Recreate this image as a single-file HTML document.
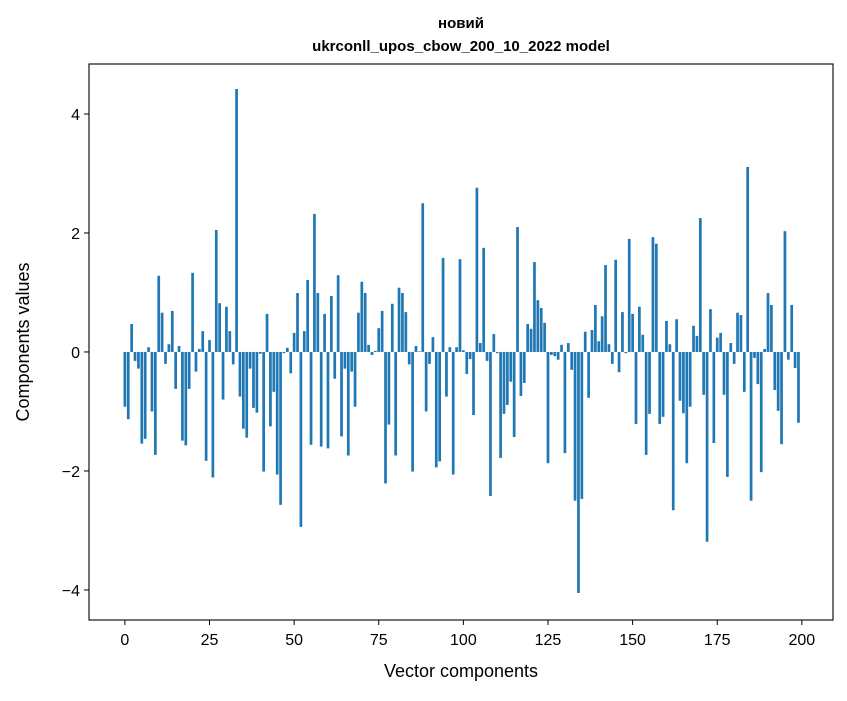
<!DOCTYPE html>
<html><head><meta charset="utf-8"><style>
body{margin:0;background:#fff;}
svg text{font-family:"Liberation Sans","DejaVu Sans",sans-serif;fill:#000;}
</style></head><body>
<svg id="chart" width="847" height="696" xmlns="http://www.w3.org/2000/svg">
<rect x="0" y="0" width="847" height="696" fill="#fff"/>
<text x="461" y="28" text-anchor="middle" font-size="15" font-weight="bold">новий</text>
<text x="461" y="51" text-anchor="middle" font-size="15" font-weight="bold">ukrconll_upos_cbow_200_10_2022 model</text>
<g id="bars"></g>
<g id="axes"></g>
<text x="461" y="677" text-anchor="middle" font-size="18">Vector components</text>
<text transform="translate(29,342) rotate(-90)" text-anchor="middle" font-size="18">Components values</text>
</svg>
<script>
const values = [-0.92,-1.13,0.47,-0.15,-0.28,-1.54,-1.46,0.08,-1.0,-1.73,
1.28,0.66,-0.2,0.13,0.69,-0.62,0.1,-1.49,-1.57,-0.62,
1.33,-0.33,0.05,0.35,-1.83,0.2,-2.11,2.05,0.82,-0.8,
0.76,0.35,-0.21,4.42,-0.75,-1.29,-1.44,-0.28,-0.94,-1.02,
-0.03,-2.01,0.64,-1.25,-0.67,-2.06,-2.57,-0.02,0.07,-0.36,
0.32,0.99,-2.94,0.35,1.21,-1.56,2.32,0.99,-1.59,0.64,
-1.62,0.94,-0.45,1.29,-1.42,-0.28,-1.74,-0.33,-0.92,0.66,
1.18,0.99,0.12,-0.05,0.02,0.4,0.69,-2.21,-1.22,0.81,
-1.74,1.08,0.99,0.67,-0.21,-2.01,0.1,0.01,2.5,-1.0,
-0.2,0.25,-1.94,-1.84,1.58,-0.75,0.08,-2.06,0.08,1.56,
0.03,-0.37,-0.12,-1.06,2.76,0.15,1.75,-0.15,-2.42,0.3,
-0.02,-1.78,-1.04,-0.89,-0.5,-1.43,2.1,-0.74,-0.52,0.47,
0.39,1.51,0.87,0.74,0.49,-1.87,-0.05,-0.07,-0.13,0.12,
-1.7,0.15,-0.3,-2.5,-4.05,-2.47,0.34,-0.77,0.37,0.79,
0.18,0.6,1.46,0.13,-0.2,1.55,-0.34,0.67,-0.02,1.9,
0.64,-1.21,0.76,0.29,-1.73,-1.04,1.93,1.82,-1.21,-1.09,
0.52,0.13,-2.66,0.55,-0.82,-1.03,-1.87,-0.92,0.44,0.27,
2.25,-0.72,-3.19,0.72,-1.53,0.24,0.32,-0.72,-2.1,0.15,
-0.2,0.66,0.62,-0.67,3.11,-2.5,-0.1,-0.54,-2.02,0.05,
0.99,0.79,-0.64,-0.99,-1.55,2.03,-0.13,0.79,-0.27,-1.19];
const xTicks = [0,25,50,75,100,125,150,175,200];
const yTicks = [-4,-2,0,2,4];
const yTickLabels = ["\u22124","\u22122","0","2","4"];

const L=89,R=833,T=64,B=620;
const xMin=-10.6, xMax=209.2, yMin=-4.505, yMax=4.84;
const sx=v=>L+(v-xMin)/(xMax-xMin)*(R-L);
const sy=v=>B-(v-yMin)/(yMax-yMin)*(B-T);
const NS="http://www.w3.org/2000/svg";
const bars=document.getElementById('bars');
values.forEach((v,i)=>{
  const r=document.createElementNS(NS,'rect');
  
  
  const x0=sx(i-0.4), x1=sx(i+0.4);
  const y0=sy(Math.max(v,0)), y1=sy(Math.min(v,0));
  r.setAttribute('x',x0); r.setAttribute('width',x1-x0);
  r.setAttribute('y',y0); r.setAttribute('height',Math.max(y1-y0,0.3));
  r.setAttribute('fill','#1f77b4');
  bars.appendChild(r);
});
const axes=document.getElementById('axes');
const frame=document.createElementNS(NS,'rect');


frame.setAttribute('x',L);frame.setAttribute('y',T);frame.setAttribute('width',R-L);frame.setAttribute('height',B-T);
frame.setAttribute('fill','none');frame.setAttribute('stroke','#000');frame.setAttribute('stroke-width','1.1');
axes.appendChild(frame);
xTicks.forEach(t=>{
  const x=sx(t);
  const l=document.createElementNS(NS,'line');
  
  
  l.setAttribute('x1',x);l.setAttribute('x2',x);l.setAttribute('y1',B);l.setAttribute('y2',B+5);l.setAttribute('stroke','#000');
  axes.appendChild(l);
  const tx=document.createElementNS(NS,'text');
  
  
  tx.setAttribute('x',x);tx.setAttribute('y',B+25);tx.setAttribute('text-anchor','middle');tx.setAttribute('font-size','16');
  tx.textContent=t;
  axes.appendChild(tx);
});
yTicks.forEach((t,i)=>{
  const y=sy(t);
  const l=document.createElementNS(NS,'line');
  
  
  l.setAttribute('x1',L-5);l.setAttribute('x2',L);l.setAttribute('y1',y);l.setAttribute('y2',y);l.setAttribute('stroke','#000');
  axes.appendChild(l);
  const tx=document.createElementNS(NS,'text');
  
  
  tx.setAttribute('x',L-9);tx.setAttribute('y',y+6);tx.setAttribute('text-anchor','end');tx.setAttribute('font-size','16');
  tx.textContent=yTickLabels[i];
  axes.appendChild(tx);
});
</script>
</body></html>
